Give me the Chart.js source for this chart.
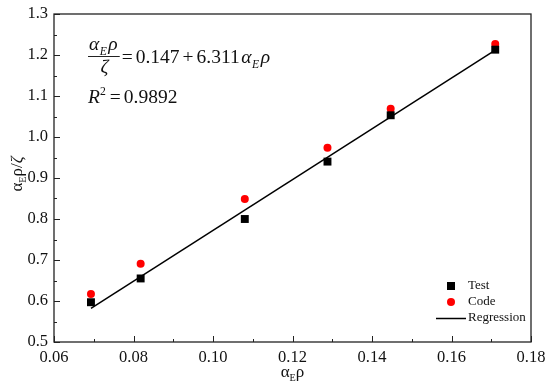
<!DOCTYPE html>
<html>
<head>
<meta charset="utf-8">
<script src="https://cdn.jsdelivr.net/npm/chart.js@4/dist/chart.umd.min.js"></script>
<style>
  html, body { margin: 0; padding: 0; background: #fff; }
  #wrap { width: 550px; height: 386px; }
</style>
</head>
<body>
<div id="wrap"><canvas id="c"></canvas></div>
<script>
// data
const xVals = [0.0693, 0.0818, 0.108, 0.1288, 0.1447, 0.171];
const testVals = [0.597, 0.655, 0.800, 0.940, 1.053, 1.213];
const codeVals = [0.617, 0.691, 0.849, 0.974, 1.069, 1.227];
const regX = [0.0693, 0.171];
const regY = [0.582, 1.212];
const xTicks = [0.06, 0.08, 0.10, 0.12, 0.14, 0.16, 0.18];
const yTicks = [0.5, 0.6, 0.7, 0.8, 0.9, 1.0, 1.1, 1.2, 1.3];

const FONT = '"Liberation Serif", "Times New Roman", serif';

// runs: [text, mode, italic, gapAfter] ; mode 1 = subscript, 2 = superscript
function drawRuns(ctx, runs, x, y, size, italic, measureOnly) {
  let cx = x;
  runs.forEach(([t, mode, it, gap]) => {
    const s = mode ? size * 0.6 : size;
    const dy = mode === 1 ? size * 0.25 : (mode === 2 ? -size * 0.4 : 0);
    ctx.font = ((it !== undefined && it !== null ? it : italic) ? 'italic ' : '') + s + 'px ' + FONT;
    if (!measureOnly) ctx.fillText(t, cx, y + dy);
    cx += ctx.measureText(t).width + (gap || 0);
  });
  return cx - x;
}

const decor = {
  id: 'decor',
  afterDraw(chart) {
    const ctx = chart.ctx;
    const a = chart.chartArea;
    const xs = chart.scales.x, ys = chart.scales.y;
    ctx.save();
    ctx.strokeStyle = '#222';
    ctx.fillStyle = '#111';
    ctx.lineWidth = 1.3;
    ctx.strokeRect(a.left, a.top, a.right - a.left, a.bottom - a.top);

    // inward ticks, major + minor
    ctx.lineWidth = 1;
    ctx.beginPath();
    for (let i = 0; i <= 12; i++) {
      const px = Math.round(xs.getPixelForValue(0.06 + i * 0.01)) + 0.5;
      const len = i % 2 === 0 ? 6 : 3;
      ctx.moveTo(px, a.bottom); ctx.lineTo(px, a.bottom - len);
    }
    for (let i = 0; i <= 16; i++) {
      const py = Math.round(ys.getPixelForValue(0.5 + i * 0.05)) + 0.5;
      const len = i % 2 === 0 ? 6 : 3;
      ctx.moveTo(a.left, py); ctx.lineTo(a.left + len, py);
    }
    ctx.stroke();

    // tick labels
    ctx.font = '16.5px ' + FONT;
    ctx.textBaseline = 'middle';
    ctx.textAlign = 'right';
    yTicks.forEach(v => ctx.fillText(v.toFixed(1), a.left - 6, ys.getPixelForValue(v)));
    ctx.textAlign = 'center';
    ctx.textBaseline = 'top';
    xTicks.forEach(v => ctx.fillText(v.toFixed(2), xs.getPixelForValue(v), a.bottom + 7));

    // axis titles
    ctx.textAlign = 'left';
    ctx.textBaseline = 'alphabetic';
    const xt = [['α', 0], ['E', 1], ['ρ', 0]];
    const xw = drawRuns(ctx, xt, 0, 0, 17, false, true);
    drawRuns(ctx, xt, (a.left + a.right) / 2 - xw / 2, 377, 17, false);
    ctx.save();
    ctx.translate(22, 174);
    ctx.rotate(-Math.PI / 2);
    const yt = [['α', 0], ['E', 1], ['ρ/', 0], ['ζ', 0, true]];
    const yw = drawRuns(ctx, yt, 0, 0, 17, false, true);
    drawRuns(ctx, yt, -yw / 2, 0, 17, false);
    ctx.restore();

    // equation
    const ES = 19.5;
    const num = [['α', 0, null, 0.5], ['E', 1, null, 1.5], ['ρ', 0]];
    const nw = drawRuns(ctx, num, 0, 0, ES, true, true);
    const fx = 88;
    drawRuns(ctx, num, fx + 1, 50, ES, true);
    ctx.beginPath();
    ctx.lineWidth = 1;
    ctx.moveTo(fx, 56.5); ctx.lineTo(fx + nw + 3, 56.5);
    ctx.stroke();
    ctx.font = 'italic ' + ES + 'px ' + FONT;
    const zw = ctx.measureText('ζ').width;
    ctx.fillText('ζ', fx + 2 + nw / 2 - zw / 2, 73);
    drawRuns(ctx, [['=', 0, false, 3], ['0.147', 0, false, 3], ['+', 0, false, 3], ['6.311', 0, false, 1.5],
      ['α', 0, null, 0.5], ['E', 1, null, 1.5], ['ρ', 0]], fx + nw + 5, 63, ES, true);
    drawRuns(ctx, [['R', 0, true], ['2', 2, false, 4], ['=', 0, false, 3], ['0.9892', 0, false]], fx, 103, ES, false);

    // legend
    const ds = chart.data.datasets;
    ctx.font = '13px ' + FONT;
    ctx.textBaseline = 'middle';
    const lx = 451, tx = 468;
    ctx.fillStyle = ds[0].backgroundColor;
    ctx.fillRect(lx - 4, 286 - 4, 8, 8);
    ctx.fillStyle = ds[1].backgroundColor;
    ctx.beginPath(); ctx.arc(lx, 302, 4, 0, Math.PI * 2); ctx.fill();
    ctx.strokeStyle = ds[2].borderColor;
    ctx.lineWidth = 1.5;
    ctx.beginPath(); ctx.moveTo(436, 318.5); ctx.lineTo(466, 318.5); ctx.stroke();
    ctx.fillStyle = '#111';
    ctx.fillText(ds[0].label, tx, 286);
    ctx.fillText(ds[1].label, tx, 302);
    ctx.fillText(ds[2].label, tx, 318);
    ctx.restore();
  }
};

new Chart(document.getElementById('c'), {
  type: 'scatter',
  data: {
    datasets: [
      { label: 'Test', data: xVals.map((x, i) => ({ x, y: testVals[i] })),
        pointStyle: 'rect', pointRadius: 5.6, backgroundColor: '#000', borderColor: '#000', borderWidth: 0, order: 1 },
      { label: 'Code', data: xVals.map((x, i) => ({ x, y: codeVals[i] })),
        pointStyle: 'circle', pointRadius: 4, backgroundColor: '#ff0000', borderColor: '#ff0000', borderWidth: 0, order: 2 },
      { label: 'Regression', type: 'line', data: regX.map((x, i) => ({ x, y: regY[i] })),
        borderColor: '#000', borderWidth: 1.5, pointRadius: 0, fill: false, order: 3 }
    ]
  },
  options: {
    responsive: true,
    maintainAspectRatio: false,
    animation: false,
    layout: { padding: { top: 14, right: 19, left: 0, bottom: 0 } },
    plugins: { legend: { display: false }, tooltip: { enabled: false } },
    scales: {
      x: { type: 'linear', min: 0.06, max: 0.18,
        grid: { display: false }, border: { display: false },
        ticks: { display: false },
        afterFit: s => { s.height = 44; } },
      y: { min: 0.5, max: 1.3,
        grid: { display: false }, border: { display: false },
        ticks: { display: false },
        afterFit: s => { s.width = 54; } }
    }
  },
  plugins: [decor]
});
</script>
</body>
</html>
